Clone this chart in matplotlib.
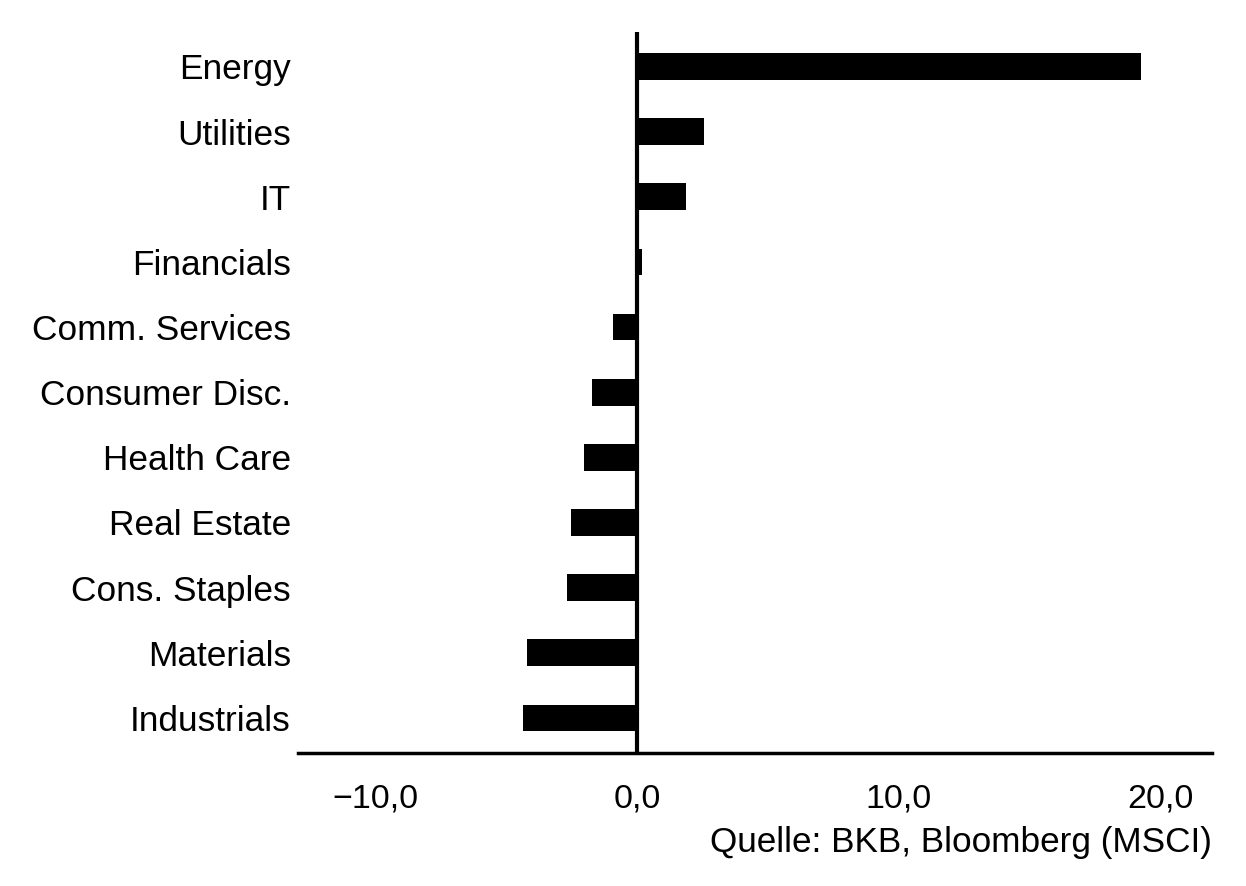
import numpy as np
import matplotlib.pyplot as plt

plt.rcParams['font.family'] = ['Liberation Sans', 'DejaVu Sans']

# sektoren, von unten nach oben
sektoren = ['Industrials', 'Materials', 'Cons. Staples', 'Real Estate',
            'Health Care', 'Consumer Disc.', 'Comm. Services', 'Financials',
            'IT', 'Utilities', 'Energy']
werte = [-4.34, -4.21, -2.68, -2.53, -2.02, -1.72, -0.92, 0.19, 1.86, 2.56, 19.24]
xticks = [-10, 0, 10, 20]
xtick_labels = ['\u221210,0', '0,0', '10,0', '20,0']

fig = plt.figure(figsize=(12.46, 8.86), dpi=100)
ax = fig.add_axes([0.239, 0.150, 0.7337, 0.814])

y = np.arange(len(sektoren))
ax.barh(y, werte, height=0.41, color='black')
ax.axvline(0, color='black', linewidth=3)  # null-linie

ax.set_xlim(-12.95, 21.95)
ax.set_ylim(-0.54, len(sektoren) - 1 + 0.53)

ax.set_yticks(y)
ax.set_yticklabels(sektoren, fontsize=25.4, va='center_baseline')
ax.set_xticks(xticks)
ax.set_xticklabels(xtick_labels, fontsize=24.5)
ax.tick_params(axis='both', length=0)
ax.tick_params(axis='y', pad=5)
ax.tick_params(axis='x', pad=22)

for s in ['top', 'right', 'left']:
    ax.spines[s].set_visible(False)
ax.spines['bottom'].set_linewidth(2.5)

fig.text(0.973, 0.049, 'Quelle: BKB, Bloomberg (MSCI)', ha='right', va='center', fontsize=25.3)

plt.savefig('out.png', dpi=100)
